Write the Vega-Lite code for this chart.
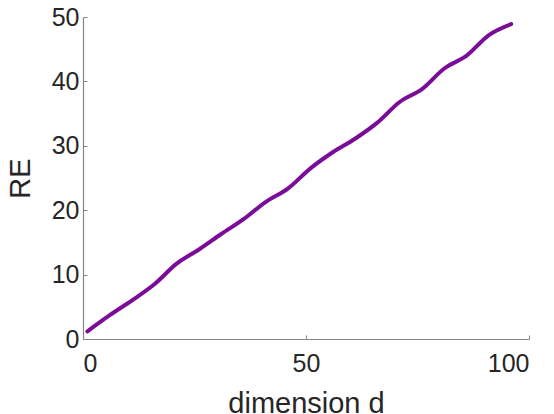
{
  "$schema": "https://vega.github.io/schema/vega-lite/v6.json",
  "autosize": "none",
  "width": 446,
  "height": 322,
  "padding": {"left": 83, "top": 17, "right": 25, "bottom": 75},
  "background": "white",
  "config": {
    "view": {"stroke": null},
    "font": "Liberation Sans",
    "axis": {
      "grid": false,
      "domainColor": "#858585",
      "domainWidth": 1.2,
      "tickColor": "#858585",
      "tickSize": -4,
      "labelFont": "Liberation Sans",
      "labelFontSize": 25,
      "labelColor": "#262626",
      "titleFont": "Liberation Sans",
      "titleFontSize": 29,
      "titleFontWeight": "normal",
      "titleColor": "#262626"
    }
  },
  "data": {
    "values": [
      {"d": 1, "RE": 1.2},
      {"d": 6, "RE": 3.7},
      {"d": 11, "RE": 6.0},
      {"d": 16, "RE": 8.5},
      {"d": 21, "RE": 11.7},
      {"d": 26, "RE": 13.9},
      {"d": 31, "RE": 16.3},
      {"d": 36, "RE": 18.6},
      {"d": 41, "RE": 21.3},
      {"d": 46, "RE": 23.4},
      {"d": 51, "RE": 26.5},
      {"d": 56, "RE": 29.0},
      {"d": 61, "RE": 31.1},
      {"d": 66, "RE": 33.6},
      {"d": 71, "RE": 36.8},
      {"d": 76, "RE": 38.8},
      {"d": 81, "RE": 42.0},
      {"d": 86, "RE": 44.0},
      {"d": 91, "RE": 47.2},
      {"d": 96, "RE": 48.9}
    ]
  },
  "mark": {"type": "line", "color": "#7A0C99", "strokeWidth": 4, "interpolate": "monotone", "strokeCap": "round"},
  "encoding": {
    "x": {
      "field": "d", "type": "quantitative",
      "scale": {"domain": [0, 100], "nice": false},
      "axis": {"values": [0, 50, 100], "title": "dimension d", "labelPadding": 16, "titlePadding": 12, "titleBaseline": "alphabetic", "titleY": 73}
    },
    "y": {
      "field": "RE", "type": "quantitative",
      "scale": {"domain": [0, 50], "nice": false},
      "axis": {"values": [0, 10, 20, 30, 40, 50], "title": "RE", "labelPadding": 8, "titlePadding": 16}
    }
  }
}
